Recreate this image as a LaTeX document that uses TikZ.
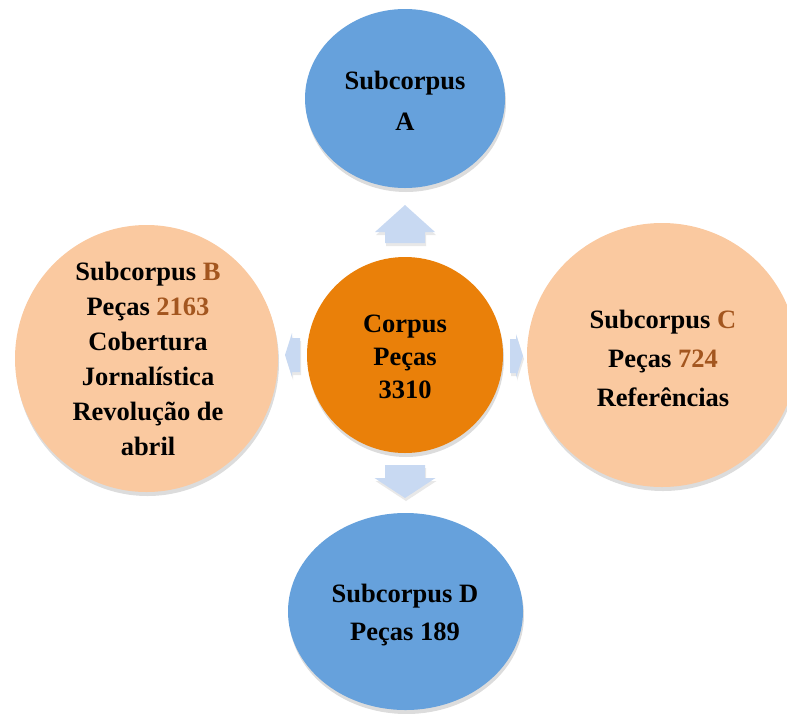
\documentclass[tikz,border=0pt]{standalone}
\usepackage{fontspec}
\setmainfont{Liberation Serif}
\usetikzlibrary{shadows,shapes.geometric}
\definecolor{blueball}{HTML}{66A1DC}
\definecolor{orangeball}{HTML}{EA8009}
\definecolor{peachball}{HTML}{FAC9A0}
\definecolor{brownnum}{HTML}{A3561F}
\definecolor{arrowblue}{HTML}{C8D9F2}
\tikzset{
  ball/.style={ellipse, draw=none, inner sep=0pt,
    drop shadow={opacity=0.28, shadow xshift=1pt, shadow yshift=-4pt}},
  label text/.style={align=center, font=\bfseries\fontsize{26.5}{#1}\selectfont, text=black},
  blockarrow/.style={fill=arrowblue, draw=none,
    drop shadow={opacity=0.18, shadow xshift=1pt, shadow yshift=-3pt}},
}
\newcommand{\hl}[1]{\textcolor{brownnum}{#1}}
\begin{document}
\begin{tikzpicture}[x=1pt,y=-1pt]
\useasboundingbox (0,0) rectangle (787,713);

% the five balls
\node[ball, fill=blueball,   minimum width=200pt, minimum height=179pt] (A) at (405,98.5) {};
\node[ball, fill=peachball,  minimum width=263pt, minimum height=267pt] (B) at (146.5,358.5) {};
\node[ball, fill=orangeball, minimum width=196pt, minimum height=196pt] (K) at (405,355) {};
\node[ball, fill=peachball,  minimum width=270pt, minimum height=264pt] (C) at (662,355) {};
\node[ball, fill=blueball,   minimum width=235pt, minimum height=197pt] (D) at (405.5,611.5) {};

% block arrows from the centre outwards (drawn about their tips)
\coordinate (tipA) at (405,205);
\coordinate (tipD) at (405,498);
\coordinate (tipB) at (285,355);
\coordinate (tipC) at (523,356);
\fill[blockarrow] (tipA) -- ++(30,27) -- ++(-10,0) -- ++(0,11) -- ++(-40,0)
  -- ++(0,-11) -- ++(-10,0) -- cycle;
\fill[blockarrow] (tipD) -- ++(30.5,-20) -- ++(-10.5,0) -- ++(0,-13) -- ++(-40,0)
  -- ++(0,13) -- ++(-10.5,0) -- cycle;
\fill[blockarrow] (tipB) -- ++(7,-22) -- ++(0,5) -- ++(8,0) -- ++(0,34)
  -- ++(-8,0) -- ++(0,5) -- cycle;
\fill[blockarrow] (tipC) -- ++(-7,-22) -- ++(0,5) -- ++(-6,0) -- ++(0,34)
  -- ++(6,0) -- ++(0,5) -- cycle;

% texts
\node[label text=41] (tA) at (405,101) {Subcorpus\\A};
\node[label text=35] (tB) at (148,359) {Subcorpus \hl{B}\\Peças \hl{2163}\\Cobertura\\Jornalística\\Revolução de\\abril};
\node[label text=33] (tK) at (405,357) {Corpus\\Peças\\3310};
\node[label text=39] (tC) at (663,358) {Subcorpus \hl{C}\\Peças \hl{724}\\Referências};
\node[label text=38] (tD) at (405,615) {Subcorpus D\\Peças 189};
\end{tikzpicture}
\end{document}
